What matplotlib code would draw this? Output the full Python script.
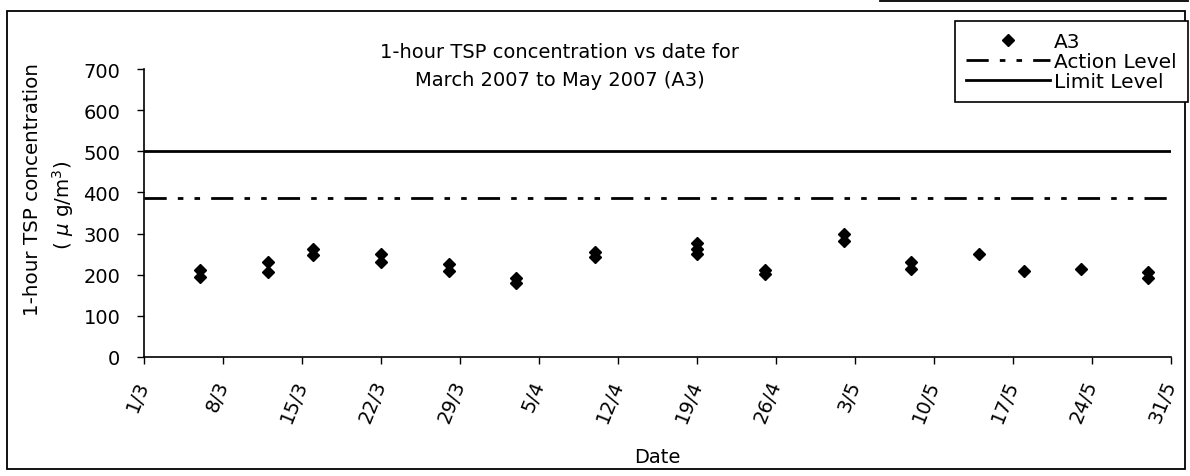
import matplotlib
matplotlib.use("Agg")
import matplotlib.pyplot as plt
from matplotlib.lines import Line2D
from matplotlib.patches import Rectangle
import datetime as dt

plt.rcParams['font.family'] = ['DejaVu Sans']

# ---- data ----
dates = ["2007-03-06", "2007-03-06",
         "2007-03-12", "2007-03-12",
         "2007-03-16", "2007-03-16",
         "2007-03-22", "2007-03-22",
         "2007-03-28", "2007-03-28",
         "2007-04-03", "2007-04-03",
         "2007-04-10", "2007-04-10",
         "2007-04-19", "2007-04-19", "2007-04-19",
         "2007-04-25", "2007-04-25",
         "2007-05-02", "2007-05-02",
         "2007-05-08", "2007-05-08",
         "2007-05-14",
         "2007-05-18",
         "2007-05-23",
         "2007-05-29", "2007-05-29"]
a3_values = [212, 195,
             230, 207,
             262, 248,
             250, 232,
             225, 210,
             192, 180,
             255, 242,
             278, 262, 250,
             212, 202,
             298, 282,
             232, 215,
             250,
             208,
             215,
             207, 192]
action_level = 386
limit_level = 500
tick_dates = ["2007-03-01", "2007-03-08", "2007-03-15", "2007-03-22", "2007-03-29",
              "2007-04-05", "2007-04-12", "2007-04-19", "2007-04-26", "2007-05-03",
              "2007-05-10", "2007-05-17", "2007-05-24", "2007-05-31"]
tick_labels = ["1/3", "8/3", "15/3", "22/3", "29/3", "5/4", "12/4", "19/4",
               "26/4", "3/5", "10/5", "17/5", "24/5", "31/5"]
y_ticks = [0, 100, 200, 300, 400, 500, 600, 700]

to_dt = lambda s: dt.datetime.strptime(s, "%Y-%m-%d")
x = [to_dt(d) for d in dates]
xt = [to_dt(d) for d in tick_dates]

DASH = (8, 4, 2, 4, 2, 4)

W, H = 1190, 477
fig = plt.figure(figsize=(W / 100, H / 100), dpi=100)
left, right, top, bottom = 144, 1171, 70, 358
ax = fig.add_axes([left / W, 1 - bottom / H, (right - left) / W, (bottom - top) / H])

ax.plot(x, a3_values, linestyle='none', marker='D', markersize=6.3,
        color='black', label='A3')
ax.axhline(action_level, color='black', lw=2, dashes=DASH, label='Action Level')
ax.axhline(limit_level, color='black', lw=2, label='Limit Level')

ax.set_xlim(xt[0], xt[-1])
ax.set_ylim(0, 700)
ax.set_yticks(y_ticks)
ax.set_xticks(xt)
ax.set_xticklabels(tick_labels, rotation=68, ha='right', va='center',
                   rotation_mode='anchor')
ax.tick_params(axis='both', labelsize=14, direction='out', length=5, width=1,
               color='black')
ax.tick_params(axis='x', pad=12)
ax.tick_params(axis='y', pad=12)
for s in ['top', 'right']:
    ax.spines[s].set_visible(False)
for s in ['left', 'bottom']:
    ax.spines[s].set_linewidth(1.2)

ax.set_xlabel('Date', fontsize=14, labelpad=16)
fig.text(33 / W, 1 - 189 / H, '1-hour TSP concentration', rotation=90,
         ha='center', va='center', fontsize=14.3)
fig.text(63 / W, 1 - 205 / H, r'( $\mu$ g/m$^3$)', rotation=90,
         ha='center', va='center', fontsize=14.3)

fig.text(560 / W, 1 - 53 / H, '1-hour TSP concentration vs date for',
         ha='center', va='center', fontsize=14)
fig.text(560 / W, 1 - 81 / H, 'March 2007 to May 2007 (A3)',
         ha='center', va='center', fontsize=14)

# outer frame
fig.patches.append(Rectangle((7 / W, 1 - 470 / H), (1185 - 7) / W, (470 - 12) / H,
                             transform=fig.transFigure, fill=False,
                             edgecolor='black', lw=1.3))
fig.add_artist(Line2D([880 / W, 1 - 2 / W], [1 - 2 / H, 1 - 2 / H],
                      transform=fig.transFigure, color='black', lw=1.3))

handles = [Line2D([], [], linestyle='none', marker='D', markersize=6.3, color='black'),
           Line2D([], [], color='black', lw=2, dashes=DASH),
           Line2D([], [], color='black', lw=2)]
leg = fig.legend(handles, ['A3', 'Action Level', 'Limit Level'],
                 loc='upper right', bbox_to_anchor=(1188 / W, 1 - 22 / H),
                 bbox_transform=fig.transFigure, fontsize=14.5, frameon=True,
                 fancybox=False, framealpha=1, edgecolor='black',
                 handlelength=4.2, handletextpad=0.2, labelspacing=0.05,
                 borderpad=0.55, borderaxespad=0)
leg.get_frame().set_linewidth(1.2)

fig.savefig('out.png', dpi=100, facecolor='white')
